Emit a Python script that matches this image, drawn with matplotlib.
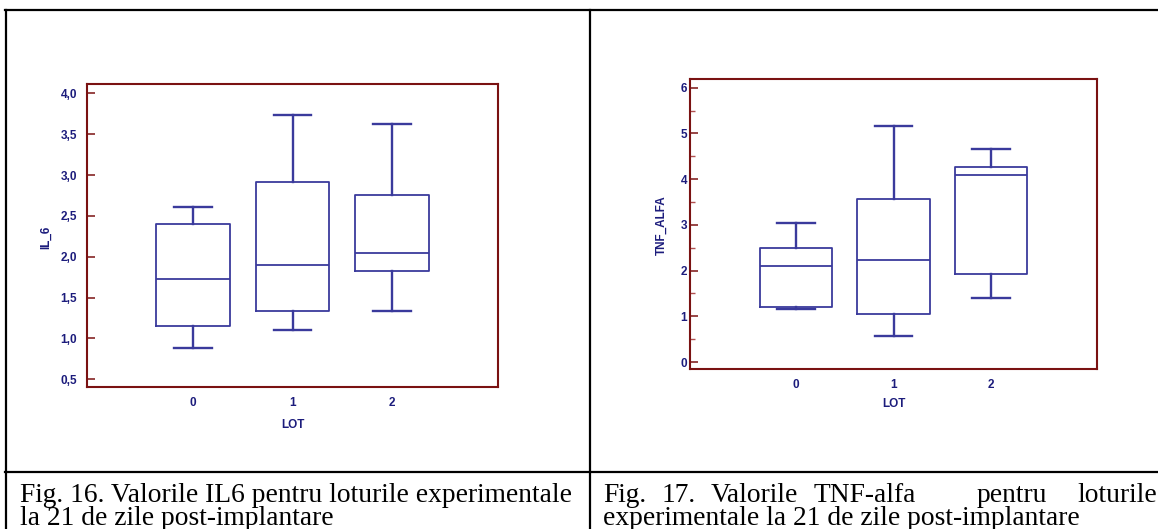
import matplotlib
matplotlib.use("Agg")
import matplotlib.pyplot as plt
from matplotlib.lines import Line2D

# ---------------- data ----------------
lots = ["0", "1", "2"]

il6_q1 = [1.15, 1.33, 1.82]
il6_med = [1.73, 1.90, 2.05]
il6_q3 = [2.40, 2.92, 2.755]
il6_lo = [0.88, 1.10, 1.34]
il6_hi = [2.61, 3.73, 3.62]
il6_ticks = [0.5, 1.0, 1.5, 2.0, 2.5, 3.0, 3.5, 4.0]
il6_ticklabels = ["0,5", "1,0", "1,5", "2,0", "2,5", "3,0", "3,5", "4,0"]

tnf_q1 = [1.20, 1.05, 1.93]
tnf_med = [2.11, 2.24, 4.08]
tnf_q3 = [2.50, 3.565, 4.265]
tnf_lo = [1.16, 0.57, 1.40]
tnf_hi = [3.03, 5.16, 4.665]
tnf_ticks = [0, 1, 2, 3, 4, 5, 6]
tnf_ticklabels = ["0", "1", "2", "3", "4", "5", "6"]
tnf_minor = [0.5, 1.5, 2.5, 3.5, 4.5, 5.5]

caption_left = ["Fig. 16. Valorile IL6 pentru loturile experimentale",
                "la 21 de zile post-implantare"]
caption_right_line1 = ["Fig.", "17.", "Valorile", "TNF-alfa", "pentru", "loturile"]
caption_right_line2 = "experimentale la 21 de zile post-implantare"

# ---------------- style ----------------
W, H = 1158, 529
BOX = "#3a3a9c"
SPINE = "#7a1212"
TXT = "#1c1c7c"
SANS = "Liberation Sans"
SERIF = "Liberation Serif"
TFS = 8.5

fig = plt.figure(figsize=(W / 100, H / 100), dpi=100)


def px_axes(x0, y0, x1, y1):
    return fig.add_axes([x0 / W, 1 - y1 / H, (x1 - x0) / W, (y1 - y0) / H])


def make_stats(q1, med, q3, lo, hi):
    return [dict(q1=a, med=b, q3=c, whislo=d, whishi=e, fliers=[])
            for a, b, c, d, e in zip(q1, med, q3, lo, hi)]


def style_axes(ax):
    for s in ax.spines.values():
        s.set_color(SPINE)
        s.set_linewidth(1.5)
    ax.tick_params(axis="x", length=0, pad=7)
    for lab in ax.get_xticklabels() + ax.get_yticklabels():
        lab.set_fontfamily(SANS)
        lab.set_fontweight("bold")
        lab.set_fontsize(TFS)
        lab.set_color(TXT)


def draw_box(ax, stats):
    ax.bxp(stats, positions=range(len(stats)), widths=0.74, capwidths=0.38,
           showfliers=False, patch_artist=False,
           boxprops=dict(color=BOX, linewidth=1.3),
           whiskerprops=dict(color=BOX, linewidth=1.7),
           capprops=dict(color=BOX, linewidth=1.7),
           medianprops=dict(color=BOX, linewidth=1.3))


# ---- left chart ----
ax1 = px_axes(87, 84, 498, 387)
draw_box(ax1, make_stats(il6_q1, il6_med, il6_q3, il6_lo, il6_hi))
ax1.set_xlim(-1.07, 3.07)
ax1.set_ylim(0.405, 4.115)
ax1.set_xticks(range(len(lots)))
ax1.set_xticklabels(lots)
ax1.set_yticks(il6_ticks)
ax1.set_yticklabels(il6_ticklabels)
ax1.tick_params(axis="y", direction="in", length=6, width=1.1, color=SPINE, pad=7)
style_axes(ax1)
ax1.set_xlabel("LOT", fontfamily=SANS, fontweight="bold", fontsize=TFS, color=TXT)
ax1.xaxis.set_label_coords(0.5, -0.106)
ax1.set_ylabel("IL_6", fontfamily=SANS, fontweight="bold", fontsize=TFS, color=TXT)
ax1.yaxis.set_label_coords(-0.085, 0.493)

# ---- right chart ----
ax2 = px_axes(690, 79, 1097, 369)
draw_box(ax2, make_stats(tnf_q1, tnf_med, tnf_q3, tnf_lo, tnf_hi))
ax2.set_xlim(-1.087, 3.087)
ax2.set_ylim(-0.153, 6.19)
ax2.set_xticks(range(len(lots)))
ax2.set_xticklabels(lots)
ax2.set_yticks(tnf_ticks)
ax2.set_yticklabels(tnf_ticklabels)
ax2.set_yticks(tnf_minor, minor=True)
ax2.tick_params(axis="y", which="major", direction="in", length=6, width=1.1,
                color=SPINE, pad=2)
ax2.tick_params(axis="y", which="minor", direction="in", length=3.5, width=1.0,
                color="#b05050")
style_axes(ax2)
ax2.set_xlabel("LOT", fontfamily=SANS, fontweight="bold", fontsize=TFS, color=TXT)
ax2.xaxis.set_label_coords(0.5, -0.10)
ax2.set_ylabel("TNF_ALFA", fontfamily=SANS, fontweight="bold", fontsize=TFS, color=TXT)
ax2.yaxis.set_label_coords(-0.054, 0.497)

# ---- table lines ----
def hline(y, x0, x1):
    fig.add_artist(Line2D([x0 / W, x1 / W], [1 - y / H, 1 - y / H],
                          color="black", linewidth=1.6, transform=fig.transFigure))


def vline(x, y0, y1):
    fig.add_artist(Line2D([x / W, x / W], [1 - y0 / H, 1 - y1 / H],
                          color="black", linewidth=1.6, transform=fig.transFigure))


hline(10, 5, W)
hline(472, 5, W)
vline(6, 9.5, H + 2)
vline(590, 9.5, H + 2)

# ---- captions ----
Y1, Y2 = 501.5, 525


def ftext(x, y, s, size, ha="left"):
    return fig.text(x / W, 1 - y / H, s, fontfamily=SERIF, fontsize=size,
                    color="black", ha=ha, va="baseline")

fs = 15
t = ftext(20, Y1, caption_left[0], fs)
fig.canvas.draw()
r = fig.canvas.get_renderer()
w = t.get_window_extent(r).width
fs = fs * (553 / w)
t.set_fontsize(fs)
ftext(20, Y2, caption_left[1], fs)

# justified first line of right caption (extra space after TNF-alfa / pentru)
gap_weights = [1, 1, 1, 4, 2]
x_start, x_end = 603, 1157
words = [ftext(x_start, Y1, wd, fs) for wd in caption_right_line1]
fig.canvas.draw()
widths = [tw.get_window_extent(r).width for tw in words]
unit = (x_end - x_start - sum(widths)) / sum(gap_weights)
x = x_start
for i, tw in enumerate(words):
    tw.set_x(x / W)
    if i < len(gap_weights):
        x += widths[i] + unit * gap_weights[i]
ftext(x_start, Y2, caption_right_line2, fs)

fig.savefig("out.png", dpi=100)
